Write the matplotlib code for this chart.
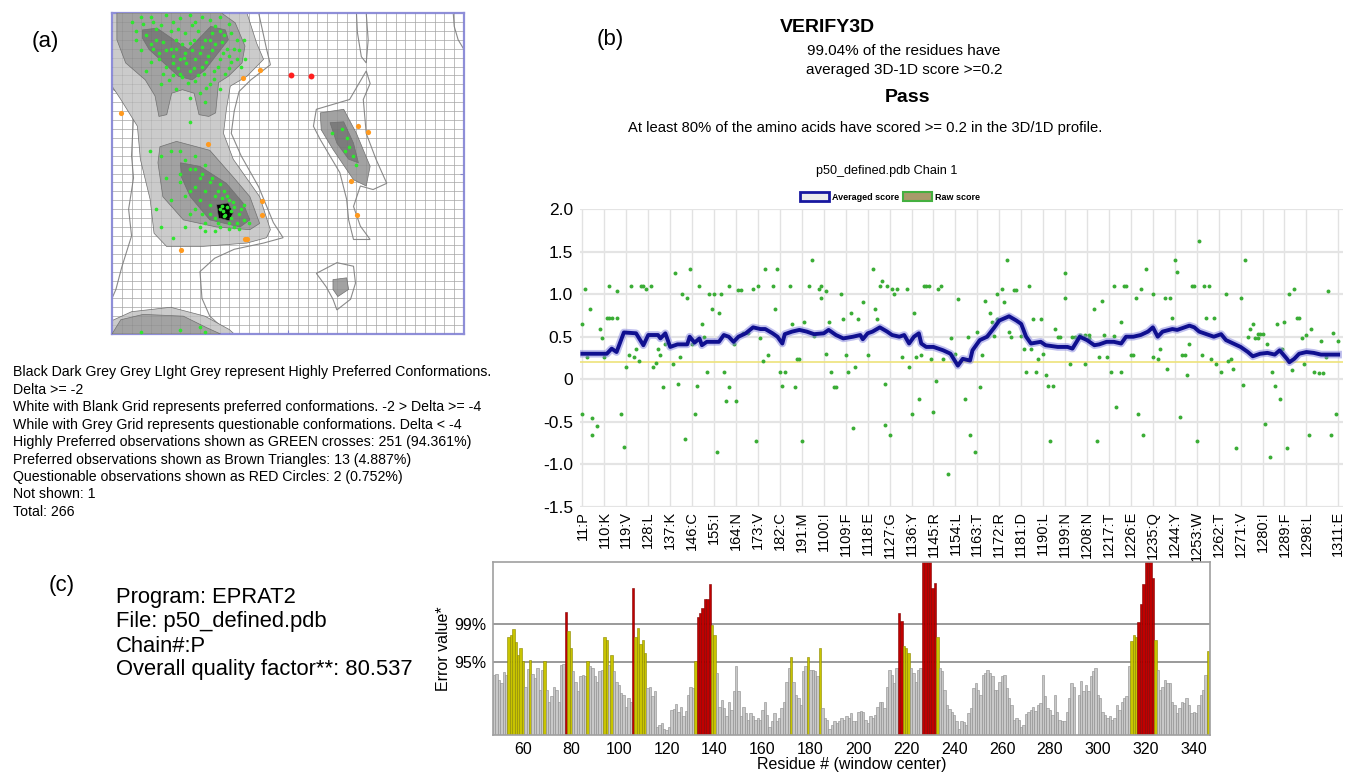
import numpy as np
import matplotlib
matplotlib.use("Agg")
import matplotlib.pyplot as plt
from matplotlib.patches import Polygon, Patch

plt.rcParams['font.family'] = ['Liberation Sans', 'DejaVu Sans']

# ---------------- (a) Ramachandran plot : regions in (phi, psi) ----------------
light_main = [(-180, 180), (-42, 180), (-32, 146), (-25, 128), (-42, 109), (-59, 98), (-63, 72),
              (-66, 45), (-56, 16), (-29, -26), (-18, -63), (-22, -72), (-42, -78), (-90, -82),
              (-124, -82), (-137, -67), (-141, -29), (-151, 16), (-154, 53), (-171, 83), (-180, 98)]
light_bottom = [(-180, -180), (-180, -165), (-160, -155), (-120, -150), (-85, -160), (-60, -175), (-55, -180)]
mid_top = [(-175, 180), (-68, 180), (-54, 169), (-44, 143), (-47, 124), (-61, 109), (-71, 102),
           (-74, 68), (-81, 64), (-91, 66), (-96, 90), (-108, 94), (-119, 90), (-124, 66),
           (-132, 64), (-136, 87), (-146, 105), (-166, 124), (-175, 150)]
mid_alpha = [(-131, 30), (-114, 36), (-80, 26), (-56, -4), (-39, -26), (-29, -56), (-39, -63),
             (-73, -60), (-107, -52), (-128, -26), (-133, 12)]
mid_lalpha = [(33, 68), (57, 72), (70, 45), (84, 8), (80, -14), (67, -7), (46, 27), (34, 49)]
mid_small = [(46, -119), (60, -117), (62, -130), (51, -138), (46, -130)]
mid_bottom = [(-180, -180), (-171, -164), (-148, -158), (-107, -160), (-83, -173), (-69, -180)]
dark_top = [(-149, 161), (-134, 163), (-102, 139), (-79, 165), (-64, 161), (-61, 150), (-85, 116),
            (-98, 105), (-112, 109), (-142, 139), (-149, 152)]
dark_alpha = [(-110, 12), (-90, 8), (-63, -11), (-46, -33), (-39, -52), (-49, -60), (-80, -52),
              (-100, -26), (-109, -4)]
dark_lalpha = [(43, 57), (57, 58), (67, 34), (72, 12), (62, 16), (50, 34)]
black_core = [(-73, -35), (-61, -33), (-56, -44), (-60, -53), (-71, -50)]

outline_main = [(-180, 180), (-30, 180), (-22, 140), (-18, 122), (-38, 105), (-50, 92), (-55, 70),
                (-58, 45), (-48, 20), (-30, -15), (-15, -55), (-5, -72), (-25, -78), (-55, -85),
                (-75, -95), (-90, -110), (-88, -140), (-80, -160), (-60, -180), (-180, -180),
                (-180, -140), (-176, -130), (-170, -105), (-160, -70), (-163, -40), (-158, -5),
                (-160, 20), (-158, 65), (-165, 85), (-180, 95)]
outline_lalpha = [(29, 72), (63, 83), (80, 115), (84, 101), (77, 83), (80, 45), (90, 16), (101, -11),
                  (87, -18), (74, -14), (67, -37), (74, -59), (84, -74), (67, -74), (62, -52),
                  (60, -29), (53, 1), (33, 38), (26, 53)]
outline_strip = [(70, 180), (80, 180), (82, 150), (80, 124), (75, 131), (71, 158)]
outline_small = [(29, -112), (50, -100), (67, -104), (69, -123), (64, -141), (50, -153), (46, -141), (39, -127)]
outline_edge = [(169, 180), (180, 180), (180, 139), (174, 150), (170, 165)]

green_phi = [-160, -150, -140, -125, -110, -95, -80, -70, -60, -155, -145, -135, -120, -105, -92, -78,
             -65, -52, -140, -128, -115, -100, -88, -75, -62, -50, -45, -150, -132, -118, -105, -95,
             -82, -70, -58, -48, -140, -125, -112, -100, -88, -76, -64, -122, -108, -95, -80, -70,
             -115, -90, -100, -85, -130, -145, -44, -100, -120, -110, -85, -135, -60, -98,
             -155, -148, -138, -130, -118, -112, -100, -88, -75, -68, -58, -55, -138, -125, -115,
             -108, -96, -90, -84, -78, -72, -66, -60, -52, -132, -118, -104, -96, -86, -76, -110,
             -102, -92, -84, -118, -128, -106, -98, -70, -80,
             -130, -110, -95, -85, -100, -110, -90, -80, -70, -95, -85, -75, -65, -60, -80, -70,
             -55, -50, -65, -75, -60, -45, -85, -100, -120, -130, -90, -70, -55, -45, -40, -118,
             -66, -62, -68, -58, -64, -141, -105, -88,
             -120, -105, -95, -88, -78, -72, -68, -62, -58, -52, -48, -72, -80, -90, -100, -110,
             -60, -50, -75, -85, -125, -135, -105, -95, -56,
             55, 60, 62, 66, 70, 45, 58,
             -150, -110, -90, -85]
green_psi = [170, 175, 176, 178, 174, 170, 172, 176, 168, 160, 155, 162, 160, 158, 160, 158,
             155, 150, 145, 148, 150, 146, 142, 145, 140, 138, 150, 138, 135, 132, 135, 128,
             132, 128, 125, 120, 125, 120, 118, 115, 120, 115, 112, 105, 108, 104, 100, 95,
             95, 90, 85, 80, 100, 115, 128, 58, 140, 128, 150, 150, 132, 166,
             150, 168, 170, 166, 170, 162, 178, 176, 165, 148, 158, 140, 140, 138, 140,
             145, 150, 135, 125, 138, 120, 135, 118, 128, 128, 124, 124, 118, 112, 106, 112,
             102, 110, 96, 110, 112, 130, 138, 160, 150,
             20, 25, 20, 10, 5, 0, -5, -10, -12, -15, -20, -25, -20, -30, -35, -40,
             -38, -45, -48, -50, -55, -52, -55, -45, -30, -60, -60, -60, -60, -35, -55, -72,
             -42, -38, -36, -42, -46, 25, -25, -45,
             25, 15, 5, 0, -5, -20, -28, -25, -50, -55, -40, -55, -45, -30, -20, -10,
             -62, -62, -65, -65, -5, -40, -60, -40, -32,
             50, 40, 30, 20, 10, 45, 25,
             -178, -176, -172, -178]
orange_phi = [-29, -46, -171, -82, 72, 82, 64, -27, -27, 71, -44, -42, -109]
orange_psi = [116, 107, 68, 33, 53, 47, -8, -31, -47, -46, -73, -73, -86]
red_phi = [3, 24]
red_psi = [110, 109]

legend_a = ["Black Dark Grey Grey LIght Grey represent Highly Preferred Conformations.",
            "Delta >= -2",
            "White with Blank Grid represents preferred conformations. -2 > Delta >= -4",
            "While with Grey Grid represents questionable conformations. Delta < -4",
            "Highly Preferred observations shown as GREEN crosses: 251 (94.361%)",
            "Preferred observations shown as Brown Triangles: 13 (4.887%)",
            "Questionable observations shown as RED Circles: 2 (0.752%)",
            "Not shown: 1",
            "Total: 266"]

# ---------------- (b) VERIFY3D ----------------
avg_res = [1, 11, 13, 15, 18, 23, 26, 28, 32, 33, 35, 37, 40, 44, 45, 47, 49, 50, 52, 57, 59, 61, 63,
           65, 68, 71, 74, 76, 79, 81, 83, 84, 87, 90, 93, 96, 100, 102, 105, 108, 112, 115, 116,
           118, 120, 123, 126, 128, 131, 133, 135, 137, 139, 140, 142, 145, 147, 149, 152, 155,
           157, 160, 161, 164, 167, 170, 172, 176, 179, 181, 183, 185, 189, 191, 196, 200, 202,
           205, 208, 211, 213, 216, 219, 222, 224, 227, 230, 233, 235, 237, 239, 243, 245, 248,
           250, 252, 254, 257, 260, 263, 265, 268, 271, 274, 276, 279, 282, 285, 287, 290, 291,
           293, 295, 298, 301, 304, 311]
avg_score = [0.30, 0.30, 0.36, 0.32, 0.55, 0.54, 0.40, 0.52, 0.52, 0.48, 0.54, 0.38, 0.41, 0.41, 0.50,
             0.43, 0.48, 0.40, 0.44, 0.44, 0.52, 0.50, 0.44, 0.50, 0.54, 0.61, 0.59, 0.59, 0.54,
             0.50, 0.42, 0.53, 0.56, 0.58, 0.56, 0.53, 0.54, 0.58, 0.52, 0.48, 0.50, 0.52, 0.47,
             0.54, 0.56, 0.61, 0.56, 0.52, 0.50, 0.52, 0.42, 0.50, 0.54, 0.42, 0.38, 0.38, 0.36,
             0.34, 0.30, 0.16, 0.24, 0.22, 0.34, 0.46, 0.50, 0.61, 0.69, 0.74, 0.69, 0.65, 0.50,
             0.42, 0.44, 0.40, 0.38, 0.38, 0.36, 0.50, 0.46, 0.40, 0.41, 0.44, 0.44, 0.42, 0.50,
             0.50, 0.52, 0.56, 0.61, 0.50, 0.56, 0.59, 0.58, 0.61, 0.63, 0.61, 0.56, 0.53, 0.50,
             0.53, 0.46, 0.42, 0.38, 0.32, 0.27, 0.30, 0.31, 0.29, 0.34, 0.24, 0.20, 0.24, 0.30,
             0.32, 0.31, 0.29, 0.29]
raw_res = [1, 1, 2, 3, 4, 5, 5, 7, 8, 9, 10, 11, 12, 13, 15, 12, 15, 17, 18, 19, 20, 21, 22, 23, 24,
           25, 26, 27, 29, 30, 31, 32, 33, 34, 35, 38, 39, 40, 41, 42, 43, 44, 45, 46, 47, 48, 49,
           50, 51, 52, 53, 55, 54, 56, 57, 58, 59, 60, 61, 61, 63, 64, 65, 66, 67, 69, 71, 72, 73,
           74, 75, 76, 77, 79, 80, 81, 82, 84, 83, 86, 87, 88, 89, 90, 91, 92, 94, 95, 96, 98, 99,
           99, 101, 101, 102, 103, 104, 105, 107, 108, 109, 110, 111, 112, 113, 114, 116, 118,
           120, 121, 122, 123, 124, 125, 125, 126, 127, 128, 129, 130, 132, 134, 135, 136, 137,
           138, 139, 140, 141, 142, 143, 144, 145, 146, 147, 148, 149, 151, 152, 154, 155, 158,
           159, 160, 162, 163, 164,
           165, 166, 167, 168, 169, 170, 171, 171, 173, 174, 175, 176, 177, 178, 179, 181, 182,
           183, 184, 185, 186, 189, 187, 188, 190, 191, 192, 194, 193, 195, 196, 197, 199, 199,
           201, 202, 203, 205, 207, 209, 205, 207, 209, 211, 212, 213, 214, 215, 216, 218, 219,
           219, 220, 222, 222, 223, 224, 226, 227, 228, 229, 230, 231, 232, 235, 235, 237, 238,
           240, 242, 241, 243, 244, 245, 246, 247, 248, 249, 250, 251, 252, 253, 254, 255, 256,
           258, 257, 260, 259, 261, 263, 265, 266, 267, 268, 269, 271, 272, 273, 274, 275, 276,
           277, 278, 278, 279, 280, 281, 282, 283, 284, 285, 286, 287, 288, 289, 290, 291, 292,
           293, 294, 295, 296, 297, 298, 299, 300, 301, 303, 305, 304, 306, 307, 308, 309, 310, 311]
raw_score = [0.65, -0.41, 1.06, 0.26, 0.82, -0.45, -0.66, -0.55, 0.59, 0.49, 0.26, 0.72, 0.72, 0.72,
             0.72, 1.10, 1.04, -0.41, -0.79, 0.14, 0.29, 1.10, 0.26, 0.35, 0.21, 1.10, 1.10, 1.06,
             1.10, 0.14, 0.19, 0.35, 0.29, -0.09, 0.42, 0.18, 1.25, -0.05, 0.26, 1.00, -0.70, 0.95,
             1.29, 0.42, -0.41, -0.08, 1.10, 0.65, 0.50, 0.09, 1.00, 1.00, 0.82, -0.85, 0.78, 1.00,
             0.09, -0.25, 1.10, -0.09, 0.42, -0.26, 1.05, 1.05, 0.54, 0.54, 1.06, -0.72, 1.10, 0.49,
             0.21, 1.29, 0.29, 1.10, 0.82, 1.29, 0.09, 0.09, -0.08, 1.10, 0.65, -0.09, 0.24, 0.24,
             -0.72, 0.67, 1.10, 1.40, 0.51, 1.06, 1.10, 0.95, 0.30, 1.04, 0.67, 0.09, -0.09, -0.09,
             1.00, 0.71, 0.29, 0.09, 0.78, -0.57, 0.14, 0.71, 0.91, 0.29, 1.29, 0.82, 0.71, 1.10,
             1.15, -0.54, -0.05, 1.10, -0.66, 1.06, 1.00, 1.06, 0.26, 1.06, 0.14, -0.41, 0.78, 0.26,
             -0.23, 0.29, 1.10, 1.10, 1.10, 0.24, -0.39, -0.02, 1.06, 1.10, 0.24, -1.11, 0.49, 0.30,
             0.94, -0.23, 0.50, -0.66, -0.85, 0.56, -0.09,
             0.29, 0.92, 0.51, 0.78, 0.67, 0.51, 1.00, 0.71, 1.06, 0.91, 1.40, 0.56, 0.50, 1.05,
             1.05, 0.51, 0.35, 0.09, 1.10, 0.35, 0.71, 0.71, 0.09, 0.24, 0.30, 0.05, -0.08, -0.08,
             -0.72, 0.59, 0.50, 0.50, 0.95, 1.25, 0.18, 0.50, 0.50, 0.52, 0.52, 0.52, 0.50, 0.18,
             0.48, 0.82, -0.72, 0.26, 0.92, 0.52, 0.26, 0.09, 0.51, 1.10, -0.33, 0.67, 0.09, 1.10,
             1.10, 0.29, 0.29, 0.95, -0.41, 1.06, -0.66, 1.29, 1.00, 0.26, 0.24, 0.35, 0.95, 0.95,
             0.12, 0.72, 1.40, 1.26, -0.44, 0.29, 0.29, 0.05, 0.42, 1.10, 1.10, -0.72, 1.62, 0.29,
             1.10, 1.10, 0.72, 0.72, 0.24, 0.18, 0.09, 1.00, 0.21, 0.24, 0.12, -0.81, 0.95, -0.07,
             1.40, 0.50, 0.59, 0.65, 0.49, 0.49, 0.53, 0.53, 0.53, -0.52, 0.42, -0.91, 0.09, -0.08,
             0.65, -0.23, 0.35, 0.67, -0.81, 1.00, 0.11, 1.06, 0.72, 0.72, 0.49, 0.18, 0.52, -0.66,
             0.59, 0.09, 0.07, 0.07, 0.45, 0.26, 1.04, -0.66, 0.54, -0.41, 0.45]
tick_res = [1, 10, 19, 28, 37, 46, 55, 64, 73, 82, 91, 100, 109, 118, 127, 136, 145, 154, 163, 172,
            181, 190, 199, 208, 217, 226, 235, 244, 253, 262, 271, 280, 289, 298, 311]
tick_labels = ['11:P', '110:K', '119:V', '128:L', '137:K', '146:C', '155:I', '164:N', '173:V',
               '182:C', '191:M', '1100:I', '1109:F', '1118:E', '1127:G', '1136:Y', '1145:R',
               '1154:L', '1163:T', '1172:R', '1181:D', '1190:L', '1199:N', '1208:N', '1217:T',
               '1226:E', '1235:Q', '1244:Y', '1253:W', '1262:T', '1271:V', '1280:I', '1289:F',
               '1298:L', '1311:E']
pass_cutoff = 0.2

# ---------------- (c) ERRAT ----------------
errat_first = 48
errat_vals = [9.3, 9.5, 8.6, 8.1, 9.8, 9.3, 15.2, 15.6, 16.5, 14.5, 12.4, 13.5, 11.5, 7.5, 10.3, 11.7,
              9.5, 8.9, 10.4, 7.0, 10.1, 11.5, 7.0, 5.2, 6.0, 7.4, 7.0, 5.2, 10.9, 11.0, 19.2, 16.2,
              13.5, 9.9, 8.3, 6.9, 9.1, 9.3, 9.1, 11.5, 10.7, 10.4, 9.1, 8.3, 9.9, 10.1, 15.2, 14.7,
              10.9, 12.5, 9.9, 8.3, 7.8, 6.5, 6.2, 4.4, 5.7, 5.2, 22.9, 15.2, 16.7, 14.1, 14.8, 12.7,
              7.3, 7.5, 6.0, 6.9, 1.3, 1.5, 1.8, 1.0, 0.8, 1.3, 3.9, 4.1, 4.8, 3.6, 4.3, 2.9, 3.7,
              6.2, 7.5, 7.3, 11.5, 18.3, 19.0, 19.8, 21.2, 21.1, 23.5, 17.1, 15.6, 9.6, 4.4, 5.5,
              4.2, 3.0, 5.2, 3.9, 6.8, 10.7, 6.9, 2.9, 4.4, 3.4, 2.3, 3.4, 2.9, 2.3, 2.6, 2.3, 3.9,
              5.2, 3.1, 1.3, 2.1, 3.4, 2.1, 2.6, 4.2, 5.2, 8.3, 10.4, 12.1, 8.3, 6.2, 5.7, 4.7, 9.9,
              10.7, 12.1, 10.1, 10.1, 9.9, 9.1, 13.5, 4.2, 2.6, 2.3, 1.0, 1.5, 2.1, 1.8, 2.1, 2.6,
              2.3, 3.0, 2.6, 3.4, 2.1, 2.1, 3.5, 3.7, 3.6, 2.3, 1.8, 2.9, 2.6, 3.1, 4.3, 5.2, 5.1,
              4.2, 7.5, 10.1, 9.4, 8.1, 10.4,
              19.0, 17.7, 13.8, 13.5, 12.7, 10.4, 9.6, 8.3, 10.1, 10.4, 28.0, 28.0, 28.0, 28.0,
              22.9, 23.7, 15.2, 10.4, 9.9, 7.0, 4.7, 4.1, 3.6, 3.1, 2.1, 1.0, 2.1, 2.0,
              1.6, 3.4, 4.2, 7.3, 8.1, 7.0, 6.2, 9.4, 9.6, 10.1, 9.6, 9.1, 7.0, 7.0, 8.3, 9.1, 9.4,
              7.3, 5.7, 4.7, 2.3, 2.6, 2.3, 1.3, 1.6, 3.2, 3.6, 3.9, 4.3, 3.7, 4.7, 4.9, 9.4, 6.1,
              4.2, 3.9, 3.1, 6.2, 3.6, 2.3, 2.2, 2.2, 3.6, 5.7, 8.1, 7.5, 0.0, 6.2, 8.4, 6.8, 7.8,
              6.8, 9.1, 9.9, 10.4, 6.2, 5.7, 3.6, 3.1, 2.6, 2.9, 2.3, 2.6, 4.7, 3.9, 5.2, 5.7, 6.0,
              10.7, 14.6, 15.6, 15.3, 17.6, 20.3, 23.5, 28.0, 28.0, 27.0, 24.4, 14.7, 10.1, 7.0,
              7.5, 8.6, 8.1, 8.1, 5.2, 4.7, 3.4, 4.2, 5.2, 4.9, 5.7, 4.7, 3.4, 3.6, 3.4, 4.7, 6.2,
              7.0, 9.3, 13.0]
limit95 = 11.38
limit99 = 17.19
errat_info = ["Program: EPRAT2", "File: p50_defined.pdb", "Chain#:P", "Overall quality factor**: 80.537"]

W, H = 1345, 773
fig = plt.figure(figsize=(W / 100, H / 100), dpi=100)


def box(x0, y0, x1, y1):
    # pixel box of the reference -> figure fraction
    return [x0 / W, 1 - y1 / H, (x1 - x0) / W, (y1 - y0) / H]


# ---- panel a ----
ax = fig.add_axes(box(112, 13, 464, 334))
ax.set_xlim(-180, 180)
ax.set_ylim(-180, 180)
for v in range(-170, 180, 10):
    ax.axvline(v, color='#c4c4c4', lw=0.6, zorder=0)
    ax.axhline(v, color='#c4c4c4', lw=0.6, zorder=0)
    # faint grid also shows through the shaded regions
    ax.axvline(v, color='#606060', lw=0.5, alpha=0.18, zorder=5.5)
    ax.axhline(v, color='#606060', lw=0.5, alpha=0.18, zorder=5.5)
for poly in [outline_main, outline_lalpha, outline_strip, outline_small, outline_edge]:
    ax.add_patch(Polygon(poly, closed=True, fill=False, edgecolor='#8a8a8a', lw=0.8, zorder=1))
for polys, col, z in [([light_main, light_bottom], '#cbcbcb', 2),
                      ([mid_top, mid_alpha, mid_lalpha, mid_small, mid_bottom], '#a2a2a2', 3),
                      ([dark_top, dark_alpha, dark_lalpha], '#7c7c7c', 4),
                      ([black_core], '#000000', 5)]:
    for poly in polys:
        ax.add_patch(Polygon(poly, closed=True, facecolor=col, edgecolor='#707070', lw=0.5, zorder=z))
ax.scatter(green_phi, green_psi, s=7, color='#2fe62f', lw=0, zorder=6)
ax.scatter(orange_phi, orange_psi, s=14, color='#ff9a1f', lw=0, zorder=6)
ax.scatter(red_phi, red_psi, s=18, color='#ff1f1f', lw=0, zorder=6)
ax.set_xticks([0])
ax.set_yticks([0])
ax.tick_params(direction='in', length=3, color='#8a8ad8', labelbottom=False, labelleft=False,
               left=False, right=True)
for s in ax.spines.values():
    s.set_color('#8e8ed8')
    s.set_linewidth(1.6)

for i, line in enumerate(legend_a):
    fig.text(13 / W, 1 - (372 + 17.5 * i) / H, line, fontsize=10.2, va='center', ha='left')

# ---- panel b ----
bx = fig.add_axes(box(580, 209, 1343, 507))
bx.set_xlim(0, 313)
bx.set_ylim(-1.5, 2.0)
for r in tick_res:
    bx.axvline(r, color='#e2e2e2', lw=1.0, zorder=0)
for v in np.arange(-1.5, 2.01, 0.5):
    bx.axhline(v, color='#e4e4e4', lw=1.6, zorder=0)
bx.axhline(pass_cutoff, color='#eee37a', lw=1.2, zorder=1)
bx.scatter(raw_res, raw_score, s=8, color='#3aad35', lw=0, zorder=2)
bx.plot(avg_res, avg_score, color='#8c8ce0', lw=5.5, alpha=0.55, zorder=3)
bx.plot(avg_res, avg_score, color='#101090', lw=2.8, zorder=4)
bx.set_yticks(np.arange(-1.5, 2.01, 0.5))
bx.set_yticklabels(['-1.5', '-1.0', '-0.5', '0', '0.5', '1.0', '1.5', '2.0'], fontsize=12.5)
bx.set_xticks(tick_res)
bx.set_xticklabels(tick_labels, rotation=90, fontsize=10.5)
bx.tick_params(length=0, pad=5)
bx.tick_params(axis='x', pad=3)
for s in bx.spines.values():
    s.set_visible(False)

handles = [Patch(facecolor='#ececec', edgecolor='#1818a0', lw=2, label='Averaged score'),
           Patch(facecolor='#a89a6a', edgecolor='#44b040', lw=1.5, label='Raw score')]
fig.legend(handles=handles, loc='center', bbox_to_anchor=(890 / W, 1 - 197 / H), ncol=2,
           frameon=False, prop={'size': 6.5, 'weight': 'bold'}, handlelength=3.2, handleheight=1.1,
           columnspacing=0.5, handletextpad=0.3)

fig.text(827 / W, 1 - 27 / H, 'VERIFY3D', fontsize=14, fontweight='bold', ha='center', va='center')
fig.text(904 / W, 1 - 51 / H, '99.04% of the residues have', fontsize=11, ha='center', va='center')
fig.text(904 / W, 1 - 70 / H, 'averaged 3D-1D score >=0.2', fontsize=11, ha='center', va='center')
fig.text(907 / W, 1 - 97 / H, 'Pass', fontsize=14, fontweight='bold', ha='center', va='center')
fig.text(865 / W, 1 - 128 / H, 'At least 80% of the amino acids have scored >= 0.2 in the 3D/1D profile.',
         fontsize=10.6, ha='center', va='center')
fig.text(887 / W, 1 - 171 / H, 'p50_defined.pdb Chain 1', fontsize=9.1, ha='center', va='center')

# ---- panel c ----
cx = fig.add_axes(box(493, 562, 1210, 735))
res = np.arange(errat_first, errat_first + len(errat_vals))
vals = np.array(errat_vals)
cols = np.where(vals > limit99, '#c00000', np.where(vals > limit95, '#c8c400', '#c8c8c8'))
edges = np.where(vals > limit99, '#800000', np.where(vals > limit95, '#8a8600', '#8a8a8a'))
cx.bar(res, vals, width=1.0, color=cols, edgecolor=edges, lw=0.4, zorder=2)
cx.axhline(limit95, color='#9a9a9a', lw=1.4, zorder=1)
cx.axhline(limit99, color='#9a9a9a', lw=1.4, zorder=1)
cx.set_xlim(47.5, 346.8)
cx.set_ylim(0, 26.9)
cx.set_xticks(range(60, 341, 20))
cx.set_yticks([limit95, limit99])
cx.set_yticklabels(['95%', '99%'])
cx.tick_params(labelsize=11.5, length=0, pad=5)
cx.set_xlabel('Residue # (window center)', fontsize=11.5, labelpad=0)
cx.set_ylabel('Error value*', fontsize=11.5, labelpad=2)
for s in cx.spines.values():
    s.set_color('#a0a0a0')
    s.set_linewidth(1.2)

for i, line in enumerate(errat_info):
    fig.text(116 / W, 1 - (598 + 24 * i) / H, line, fontsize=15.8, ha='left', va='center')

fig.text(45 / W, 1 - 42 / H, '(a)', fontsize=16, ha='center', va='center')
fig.text(610 / W, 1 - 40 / H, '(b)', fontsize=16, ha='center', va='center')
fig.text(62 / W, 1 - 586 / H, '(c)', fontsize=16, ha='center', va='center')

fig.savefig('out.png', dpi=100)
